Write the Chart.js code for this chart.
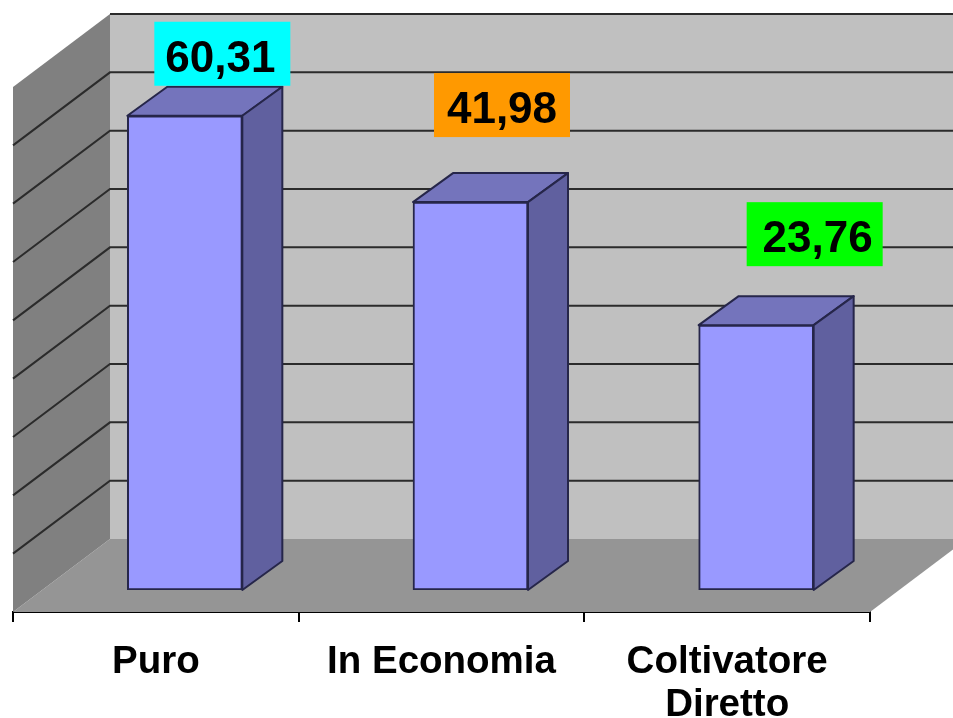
<!DOCTYPE html>
<html>
<head>
<meta charset="utf-8">
<style>
    html, body { margin: 0; padding: 0; background: #ffffff; }
    canvas { display: block; }
</style>
<script src="https://cdn.jsdelivr.net/npm/chart.js@4/dist/chart.umd.min.js"></script>
</head>
<body>
<canvas id="chart" width="953" height="718"></canvas>
<script>
// ================== DADOS ==================
const categories = ["Puro", "In Economia", ["Coltivatore", "Diretto"]];
// bar heights read off the gridlines (the printed labels do not follow the scale)
const barHeights = [81.3, 66.5, 45.4];
const printedValues = ["60,31", "41,98", "23,76"];
const yTicks = [0, 90];

// ================== ESTILO ==================
const boxColors = ["#00FFFF", "#FF9900", "#00FF00"];
const boxOffsets = [[37.5, -30], [31.5, -65], [58.5, -59]]; // from the bar's top centre
const textShifts = [-2, 0, 3];
const boxW = 136, boxH = 64;
const wallDepth = { x: 97, y: -73 };
const barShift = { x: 29, y: -22 };
const barDepth = { x: 40, y: -29 };

function poly(ctx, pts, fill, stroke) {
    ctx.beginPath();
    pts.forEach((p, i) => i ? ctx.lineTo(p[0], p[1]) : ctx.moveTo(p[0], p[1]));
    ctx.closePath();
    ctx.fillStyle = fill;
    ctx.fill();
    if (stroke) {
        ctx.strokeStyle = stroke;
        ctx.lineWidth = 2;
        ctx.lineJoin = "round";
        ctx.stroke();
    }
}

// ================== CENÁRIO 3D ==================
const scene = {
    id: "scene",
    beforeDatasetsDraw(chart) {
        const { ctx, chartArea: a, scales: { y } } = chart;
        const d = wallDepth;
        const W = chart.width;
        const floorRight = a.bottom + d.y * (W - a.right) / d.x;
        ctx.save();
        poly(ctx, [[a.left + d.x, a.top + d.y], [W, a.top + d.y], [W, a.bottom + d.y], [a.left + d.x, a.bottom + d.y]], "#C0C0C0");
        poly(ctx, [[a.left, a.bottom], [a.left + d.x, a.bottom + d.y], [W, a.bottom + d.y], [W, floorRight], [a.right, a.bottom]], "#959595");
        poly(ctx, [[a.left, a.top], [a.left + d.x, a.top + d.y], [a.left + d.x, a.bottom + d.y], [a.left, a.bottom]], "#808080");

        // gridlines on the side wall and the back wall
        ctx.strokeStyle = "#2b2b2b";
        ctx.lineWidth = 2;
        y.ticks.forEach(t => {
            if (t.value === y.min) return;
            const py = y.getPixelForValue(t.value);
            ctx.beginPath();
            if (t.value !== y.max) ctx.moveTo(a.left, py);
            else ctx.moveTo(a.left + d.x, py + d.y);
            ctx.lineTo(a.left + d.x, py + d.y);
            ctx.lineTo(W, py + d.y);
            ctx.stroke();
        });
        ctx.restore();

        // bars stand a little behind the front edge of the floor
        ctx.save();
        ctx.translate(barShift.x, barShift.y);
        chart.getDatasetMeta(0).data.forEach(bar => {
            const l = bar.x - bar.width / 2, r = bar.x + bar.width / 2;
            const dx = barDepth.x, dy = barDepth.y;
            poly(ctx, [[l, bar.y], [l + dx, bar.y + dy], [r + dx, bar.y + dy], [r, bar.y]], "#7474BC", "#26264a");
            poly(ctx, [[r, bar.y], [r + dx, bar.y + dy], [r + dx, bar.base + dy], [r, bar.base]], "#60609F", "#26264a");
        });
    },
    afterDatasetsDraw(chart) {
        const { ctx } = chart;
        ctx.restore();

        // printed value boxes
        ctx.save();
        ctx.font = "bold 44px 'Liberation Sans'";
        ctx.textAlign = "center";
        ctx.textBaseline = "middle";
        chart.getDatasetMeta(0).data.forEach((bar, i) => {
            const cx = bar.x + barShift.x + boxOffsets[i][0];
            const bottom = bar.y + barShift.y + boxOffsets[i][1];
            ctx.fillStyle = boxColors[i];
            ctx.fillRect(cx - boxW / 2, bottom - boxH, boxW, boxH);
            ctx.fillStyle = "#000000";
            ctx.fillText(printedValues[i], cx + textShifts[i], bottom - boxH / 2 + 6);
        });
        ctx.restore();
    }
};

// ================== GRÁFICO ==================
new Chart(document.getElementById("chart"), {
    type: "bar",
    data: {
        labels: categories,
        datasets: [{
            data: barHeights,
            barThickness: 115,
            backgroundColor: "#9999FF",
            borderColor: "#26264a",
            borderWidth: 2,
            borderSkipped: false
        }]
    },
    options: {
        responsive: false,
        animation: false,
        layout: { padding: { left: 13, right: 83, top: 87, bottom: 0 } },
        plugins: { legend: { display: false }, tooltip: { enabled: false } },
        scales: {
            y: {
                display: false,
                min: yTicks[0],
                max: yTicks[1],
                ticks: { stepSize: 10 }
            },
            x: {
                afterFit: s => { s.height = 106; },
                border: { color: "#000000", width: 2 },
                grid: { drawOnChartArea: false, color: "#000000", lineWidth: 2, tickLength: 10 },
                ticks: {
                    color: "#000000",
                    font: { family: "'Liberation Sans'", size: 38.5, weight: "bold", lineHeight: 1.12 },
                    padding: 19,
                    autoSkip: false,
                    maxRotation: 0
                }
            }
        }
    },
    plugins: [scene]
});
</script>
</body>
</html>
